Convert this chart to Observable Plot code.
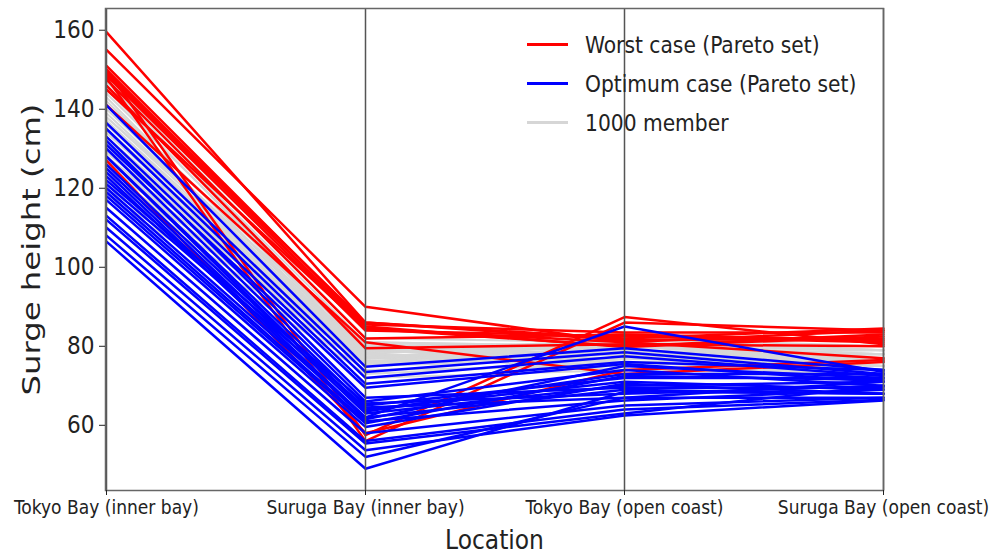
<!DOCTYPE html>
<html><head><meta charset="utf-8">
<script src="https://cdn.jsdelivr.net/npm/d3@7"></script>
<script src="https://cdn.jsdelivr.net/npm/@observablehq/plot@0.6"></script>
<style>
body{margin:0;background:#fff;}
#wrap{position:relative;width:989px;height:558px;overflow:hidden;font-family:"DejaVu Sans Condensed","DejaVu Sans",sans-serif;}
#legend{position:absolute;left:527px;top:25px;}
.row{display:flex;align-items:center;height:39px;}
.sw{width:41px;height:3px;margin-right:17px;}
.lab{font-size:22.5px;color:#222;white-space:nowrap;}
</style></head>
<body><div id="wrap"><div id="legend"></div></div>
<script>
// Locations (x categories)
const locations = ["Tokyo Bay (inner bay)", "Suruga Bay (inner bay)", "Tokyo Bay (open coast)", "Suruga Bay (open coast)"];

// Worst case (Pareto set): [Tokyo inner, Suruga inner, Tokyo open, Suruga open]
const worstCase = [
  [159.5, 86, 82, 84.5],
  [155, 90, 81, 84],
  [151, 85.5, 83.5, 83.5],
  [150, 84.5, 80, 83],
  [149.5, 86, 81.5, 82],
  [149, 85, 79.8, 82.5],
  [148.5, 84, 82.5, 81],
  [147.5, 82, 83, 81.5],
  [146, 79.5, 80.5, 80],
  [150, 57.5, 87.4, 80.5],
  [148, 56, 86, 84],
  [127, 58, 74, 76.5],
  [141, 81, 73, 76],
  [145, 84.5, 81, 77]
];

// Optimum case (Pareto set)
const optimumCase = [
  [141, 74.8, 79.5, 74],
  [136.5, 73.5, 78.5, 73],
  [135, 72, 77.5, 72.5],
  [133, 70.5, 76, 74],
  [131, 69.5, 75.5, 71],
  [130, 66, 74, 70],
  [128, 65, 72, 72],
  [126, 64, 71, 69],
  [125, 63, 70, 71],
  [124, 62, 69, 68],
  [122, 65.5, 68, 70],
  [121, 64.5, 67, 67],
  [120, 62, 85, 73.5],
  [119, 61, 66.3, 69],
  [118, 60.5, 72.5, 71.5],
  [117, 59.6, 70.5, 68],
  [115, 58, 65, 67],
  [113, 56, 64, 66.5],
  [112, 55.4, 63, 70],
  [110, 53.7, 62.5, 66.3],
  [106.5, 49, 68.5, 68],
  [108, 52, 67, 71],
  [128, 63.5, 73, 73],
  [132, 67, 69.5, 69.5],
  [123, 61.5, 75, 72]
];

// 1000 member ensemble (representative members)
const members = [
  [146, 81, 80, 78], [144, 80, 79, 77], [142, 79.5, 81, 79], [140, 79, 78, 76],
  [139, 78.5, 80, 78], [138, 78, 77, 75], [137, 77.5, 79, 77], [136, 77, 78, 79],
  [135, 76.5, 76, 74], [134, 76, 80, 76], [133, 75.5, 77, 78], [132, 75, 79, 75],
  [131, 80, 76, 77], [130, 79, 81, 76], [129, 78, 75, 73], [128, 77, 78, 74],
  [127, 76, 77, 78], [126, 75, 80, 79], [125, 80.5, 79, 76], [124, 79, 76, 75],
  [123, 78, 74, 77], [122, 77, 79, 74], [121, 76, 78, 72], [120, 75, 77, 76],
  [145, 78, 82, 80], [143, 77, 79, 76], [141, 76, 77, 75], [137, 75, 80, 77],
  [134, 80, 78, 74], [129, 79, 80, 78], [126, 78, 76, 73], [148, 82, 81, 79],
  [147, 79, 78, 77], [119, 74, 75, 72], [118, 73, 76, 74], [133, 72, 74, 73],
  [138, 81, 80, 78], [131, 77, 82, 79], [127, 81, 79, 77], [124, 76, 81, 75]
];

const yTicks = [60, 80, 100, 120, 140, 160];
const seriesNames = ["Worst case (Pareto set)", "Optimum case (Pareto set)", "1000 member"];
const seriesColors = ["#ff0000", "#0000ff", "#d6d6d6"];

function toLong(rows, group) {
  return rows.flatMap((r, i) => r.map((v, j) => ({id: group + i, group, location: locations[j], value: v})));
}
const memberData = toLong(members, "member");
const worstData = toLong(worstCase, "worst");
const optimumData = toLong(optimumCase, "optimum");

const chart = Plot.plot({
  width: 989, height: 558,
  marginLeft: 105, marginRight: 106, marginTop: 8, marginBottom: 68,
  style: {fontFamily: "DejaVu Sans Condensed", background: "white", color: "#222", overflow: "hidden"},
  x: {type: "point", domain: locations, padding: 0},
  y: {domain: [43.5, 165.5]},
  marks: [
    Plot.lineY(memberData, {x: "location", y: "value", z: "id", stroke: seriesColors[2], strokeWidth: 2}),
    Plot.lineY(worstData, {x: "location", y: "value", z: "id", stroke: seriesColors[0], strokeWidth: 2.5}),
    Plot.lineY(optimumData, {x: "location", y: "value", z: "id", stroke: seriesColors[1], strokeWidth: 2.5}),
    Plot.ruleX(locations, {stroke: "#555", strokeWidth: 1.5}),
    Plot.frame({stroke: "#666", strokeWidth: 1.5}),
    Plot.axisY({ticks: yTicks, tickSize: 6, tickPadding: 5, fontSize: 24, label: "Surge height (cm)", labelAnchor: "center", labelOffset: 83, labelArrow: "none"}),
    Plot.axisX({tickSize: 5, tickPadding: 5, fontSize: 19, label: "Location", labelAnchor: "center", labelOffset: 58, labelArrow: "none"})
  ]
});

document.getElementById("wrap").prepend(chart);

d3.select(chart).selectAll("text").each(function() {
  const t = this.textContent;
  if (t.includes("Surge height")) {
    d3.select(this).attr("font-size", 25).style("font-size", "25px")
      .attr("textLength", 292).attr("lengthAdjust", "spacingAndGlyphs");
  } else if (t.includes("Location")) {
    d3.select(this).attr("font-size", 26).style("font-size", "26px");
  }
});

const legend = d3.select("#legend");
seriesNames.forEach((name, i) => {
  const row = legend.append("div").attr("class", "row");
  row.append("div").attr("class", "sw").style("background", seriesColors[i]);
  row.append("div").attr("class", "lab").text(name);
});
</script>
</body></html>
